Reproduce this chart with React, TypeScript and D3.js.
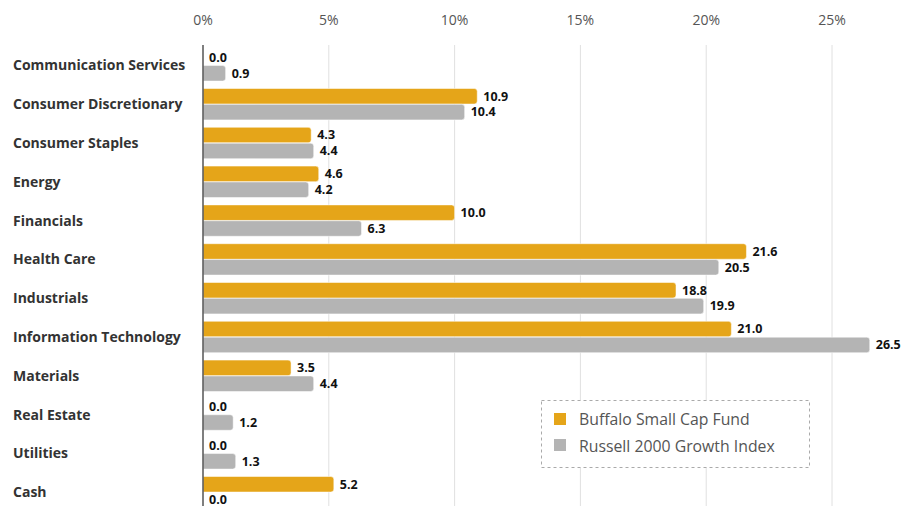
import * as d3 from "d3";
import { useLayoutEffect, useRef } from "react";

const categories = [
  "Communication Services",
  "Consumer Discretionary",
  "Consumer Staples",
  "Energy",
  "Financials",
  "Health Care",
  "Industrials",
  "Information Technology",
  "Materials",
  "Real Estate",
  "Utilities",
  "Cash",
];
const fundValues = [0.0, 10.9, 4.3, 4.6, 10.0, 21.6, 18.8, 21.0, 3.5, 0.0, 0.0, 5.2];
const indexValues = [0.9, 10.4, 4.4, 4.2, 6.3, 20.5, 19.9, 26.5, 4.4, 1.2, 1.3, 0.0];
const seriesNames = ["Buffalo Small Cap Fund", "Russell 2000 Growth Index"];
const seriesColors = ["#E5A519", "#B4B4B4"];
const xTicks = [0, 5, 10, 15, 20, 25];

const width = 901;
const height = 506;
const font = "'Open Sans', sans-serif";

export default function App() {
  const ref = useRef<SVGSVGElement>(null);

  useLayoutEffect(() => {
    const svg = d3.select(ref.current);
    svg.selectAll("*").remove();

    const x = d3.scaleLinear().domain([0, 25]).range([203, 832]);
    const y = d3
      .scaleBand<string>()
      .domain(categories)
      .range([46, 511.6])
      .paddingInner(0.175)
      .paddingOuter(0.0875);
    const inner = d3.scaleBand<number>().domain([0, 1]).range([0, y.bandwidth()]).padding(0.02);

    // grid
    svg
      .append("g")
      .selectAll("line")
      .data(xTicks.filter((t) => t > 0))
      .enter()
      .append("line")
      .attr("x1", (d) => x(d))
      .attr("x2", (d) => x(d))
      .attr("y1", 45)
      .attr("y2", height)
      .attr("stroke", "#E0E0E0")
      .attr("stroke-width", 1);

    // tick labels
    svg
      .append("g")
      .selectAll("text")
      .data(xTicks)
      .enter()
      .append("text")
      .attr("x", (d) => x(d))
      .attr("y", 25)
      .attr("text-anchor", "middle")
      .attr("font-family", font)
      .attr("font-size", 14)
      .attr("fill", "#555")
      .text((d) => `${d}%`);

    // category labels
    svg
      .append("g")
      .selectAll("text")
      .data(categories)
      .enter()
      .append("text")
      .attr("x", 13)
      .attr("y", (d) => (y(d) ?? 0) + y.bandwidth() / 2)
      .attr("dy", "0.35em")
      .attr("font-family", font)
      .attr("font-size", 14)
      .attr("font-weight", 700)
      .attr("fill", "#333")
      .text((d) => d);

    const series = [fundValues, indexValues];
    series.forEach((vals, si) => {
      const g = svg.append("g");
      const rows = categories.map((c, i) => ({ c, v: vals[i] }));
      g.selectAll("path")
        .data(rows.filter((r) => r.v > 0))
        .enter()
        .append("path")
        .attr("d", (r) => {
          const x0 = x(0);
          const x1 = x(r.v);
          const y0 = (y(r.c) ?? 0) + (inner(si) ?? 0);
          const h = inner.bandwidth();
          const rr = Math.min(3, (x1 - x0) / 2);
          return `M${x0},${y0}H${x1 - rr}Q${x1},${y0} ${x1},${y0 + rr}V${y0 + h - rr}Q${x1},${y0 + h} ${x1 - rr},${y0 + h}H${x0}Z`;
        })
        .attr("fill", seriesColors[si])
        .attr("stroke", "#fff")
        .attr("stroke-opacity", 0.5)
        .attr("stroke-width", 1);

      g.selectAll("text")
        .data(rows)
        .enter()
        .append("text")
        .attr("x", (r) => x(r.v) + 6)
        .attr("y", (r) => (y(r.c) ?? 0) + (inner(si) ?? 0) + inner.bandwidth() / 2)
        .attr("dy", "0.35em")
        .attr("font-family", font)
        .attr("font-size", 12.5)
        .attr("font-weight", 700)
        .attr("fill", "#111")
        .text((r) => r.v.toFixed(1));
    });

    // axis line
    svg
      .append("line")
      .attr("x1", x(0))
      .attr("x2", x(0))
      .attr("y1", 45)
      .attr("y2", height)
      .attr("stroke", "#555")
      .attr("stroke-width", 1.5);

    // legend
    const lg = svg.append("g").attr("transform", "translate(541,400)");
    lg.append("rect")
      .attr("x", 0.5)
      .attr("y", 0.5)
      .attr("width", 268)
      .attr("height", 67)
      .attr("fill", "#fff")
      .attr("stroke", "#AAA")
      .attr("stroke-dasharray", "3,3");
    seriesNames.forEach((name, i) => {
      lg.append("rect")
        .attr("x", 13)
        .attr("y", 13 + i * 26)
        .attr("width", 12)
        .attr("height", 12)
        .attr("fill", seriesColors[i]);
      lg.append("text")
        .attr("x", 38)
        .attr("y", 19 + i * 27)
        .attr("dy", "0.35em")
        .attr("font-family", font)
        .attr("font-size", 15.8)
        .attr("fill", "#555")
        .text(name);
    });
  }, []);

  return (
    <svg
      ref={ref}
      width={width}
      height={height}
      style={{ position: "absolute", left: 0, top: 0, background: "#fff" }}
    />
  );
}
